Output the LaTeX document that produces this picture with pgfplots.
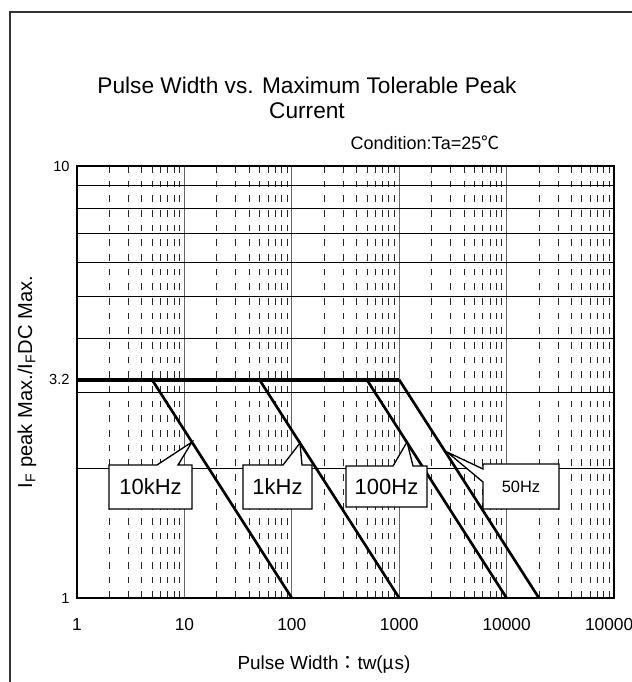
\documentclass[border=0pt]{standalone}
\usepackage{pgfplots}
\pgfplotsset{compat=1.18}
\usepackage{fontspec}
\setmainfont{Liberation Sans}
\newfontfamily\cjk{Noto Sans CJK JP}
\begin{document}
\begin{tikzpicture}
\useasboundingbox (-57.75pt,-63pt) rectangle (416.25pt,448.5pt);
\clip (-57.75pt,-63pt) rectangle (416.25pt,448.5pt);
\begin{axis}[
  at={(0,0)}, anchor=south west,
  scale only axis, width=402.75pt, height=324pt,
  xmode=log, ymode=log,
  xmin=1, xmax=100000, ymin=1, ymax=10,
  xtick={1,10,100,1000,10000,100000},
  xticklabels={1,10,100,1000,10000,100000},
  ytick={1,3.2,10}, yticklabels={1,3.2,10},
  minor xtick={2,3,4,5,6,7,8,9,20,30,40,50,60,70,80,90,200,300,400,500,600,700,800,900,2000,3000,4000,5000,6000,7000,8000,9000,20000,30000,40000,50000,60000,70000,80000,90000},
  minor ytick={2,3,4,5,6,7,8,9},
  xmajorgrids, xminorgrids, yminorgrids, ymajorgrids=false,
  major x grid style={black!60, line width=0.6pt},
  minor x grid style={black!85, line width=0.5pt, dash pattern=on 5pt off 6pt},
  minor y grid style={black, line width=0.5pt},
  major tick length=0pt, minor tick length=0pt,
  axis line style={black, line width=0.8pt},
  xticklabel style={font=\fontsize{13}{15}\selectfont, yshift=-12pt},
  yticklabel style={font=\fontsize{11}{13}\selectfont, xshift=-2pt},
]
\addplot[black, line width=2.6pt] coordinates {(1,3.2) (1000,3.2)};
\addplot[black, line width=2pt] coordinates {(5,3.2) (100,1)};
\addplot[black, line width=2pt] coordinates {(50,3.2) (1000,1)};
\addplot[black, line width=2pt] coordinates {(500,3.2) (10000,1)};
\addplot[black, line width=2pt] coordinates {(1000,3.2) (20000,1)};
\end{axis}
\begin{scope}[x=0.75pt,y=-0.75pt,shift={(-57.75pt,448.5pt)}]
\draw[black!80, line width=1.2pt] (10,12) rectangle (700,760);
\node[font=\fontsize{17}{20}\selectfont] at (307,85) {Pulse Width vs. Maximum Tolerable Peak};
\node[font=\fontsize{17}{20}\selectfont] at (307,111) {Current};
\node[font=\fontsize{13.5}{16}\selectfont] at (425,143) {Condition:Ta=25{\cjk ℃}};
\node[font=\fontsize{14.2}{17}\selectfont] at (324,665) {Pulse Width{\cjk ：}tw({\cjk μ}s)};
\node[rotate=90, font=\fontsize{15.1}{17}\selectfont] at (27,382) {I\textsubscript{F} peak Max./I\textsubscript{F}DC Max.};
\draw[fill=white, line width=1pt] (109,465) -- (157,465) -- (192,442) -- (178,465) -- (192,465) -- (192,509) -- (109,509) -- cycle;
\node[font=\fontsize{16.5}{19}\selectfont] at (150.5,487) {10kHz};
\draw[fill=white, line width=1pt] (243,465) -- (283,465) -- (300,443) -- (302,465) -- (312,465) -- (312,509) -- (243,509) -- cycle;
\node[font=\fontsize{16.5}{19}\selectfont] at (277.5,487) {1kHz};
\draw[fill=white, line width=1pt] (346,466) -- (393,466) -- (407,442) -- (413,466) -- (427,466) -- (427,507) -- (346,507) -- cycle;
\node[font=\fontsize{16.5}{19}\selectfont] at (386.5,486.5) {100Hz};
\draw[fill=white, line width=1pt] (483,464) -- (559,464) -- (559,509) -- (483,509) -- (483,482) -- (447,452) -- (483,469) -- cycle;
\node[font=\fontsize{12.3}{14}\selectfont] at (521,487) {50Hz};
\end{scope}
\end{tikzpicture}
\end{document}
